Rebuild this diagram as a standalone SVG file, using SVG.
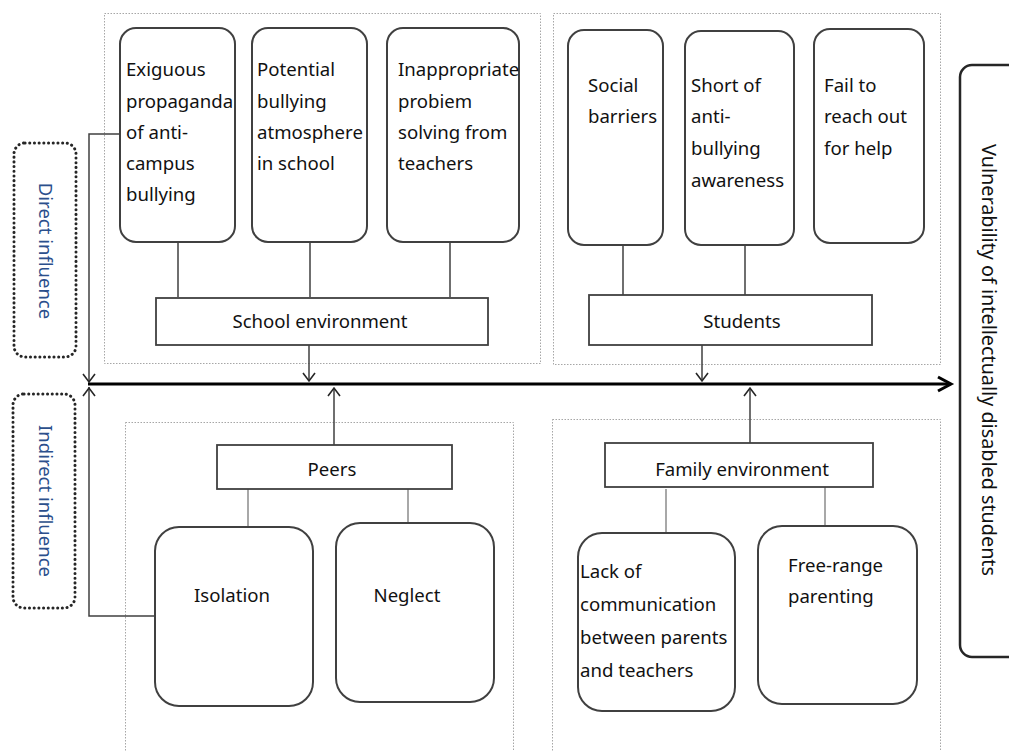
<svg xmlns="http://www.w3.org/2000/svg" width="1009" height="751" viewBox="0 0 1009 751">
<style>
.bg{fill:#fff}
.cont{fill:none;stroke:#a6a6a6;stroke-width:1;stroke-dasharray:1.5 1.5}
.rbox{fill:#fff;stroke:#404040;stroke-width:2}
.sbox{fill:#fff;stroke:#404040;stroke-width:1.8}
.vbox{fill:#fff;stroke:#262626;stroke-width:2.5}
.dot{fill:none;stroke:#262626;stroke-width:3;stroke-dasharray:0.1 4.6;stroke-linecap:round}
.t{font-family:"Noto Sans","Open Sans",sans-serif;font-size:18.6px;fill:#111}
.c{text-anchor:middle}
.bl{font-family:"Noto Sans","Open Sans",sans-serif;font-size:18.5px;fill:#2b4f8c;text-anchor:middle}
.ln{fill:none;stroke:#404040;stroke-width:1.5}
.lg{fill:none;stroke:#8c8c8c;stroke-width:1.5}
.ar{fill:none;stroke:#262626;stroke-width:1.6}
.main{fill:none;stroke:#000;stroke-width:3}
</style>
<rect class="bg" x="0" y="0" width="1009" height="751"/>

<g id="containers">
<rect class="cont" x="104.5" y="13.5" width="436" height="350"/>
<rect class="cont" x="553.5" y="13.5" width="387" height="351"/>
<rect class="cont" x="125.5" y="422.5" width="388" height="340"/>
<rect class="cont" x="552.5" y="419.5" width="388" height="340"/>
</g>

<g id="connectors">
<path class="ln" d="M178 242V297M310 242V297M450 242V297M623 245V295M745 245V295"/>
<path class="lg" d="M248 489V527M408 489V523M666 489V535M825 486V528"/>
<path class="ln" d="M120 134H89V382M155 616H89V387"/>
<path class="ar" d="M83 374L89 382L95 374M83 396L89 388L95 396"/>
<path class="ln" d="M309 345V381M702 345V381M334 445V388M750 443V388"/>
<path class="ar" d="M303 373L309 381L315 373M696 373L702 381L708 373M328 396L334 388L340 396M744 396L750 388L756 396"/>
<path class="main" d="M88 384H950"/>
<path class="main" d="M938 377L951 384L938 391"/>
</g>

<g id="direct-influence">
<rect class="dot" x="14" y="143" width="62" height="214" rx="11"/>
<text class="bl" transform="translate(39 251) rotate(90)">Direct influence</text>
</g>
<g id="indirect-influence">
<rect class="dot" x="13" y="394" width="62" height="214" rx="11"/>
<text class="bl" transform="translate(39 501) rotate(90)">Indirect influence</text>
</g>

<g id="vulnerability">
<rect class="vbox" x="960" y="65" width="70" height="592" rx="12"/>
<text class="t" style="font-size:19.8px" text-anchor="middle" transform="translate(982 360) rotate(90)">Vulnerability of intellectually disabled students</text>
</g>

<g id="exiguous">
<rect class="rbox" x="120" y="28" width="115" height="214" rx="16"/>
<text class="t"><tspan x="126" y="76">Exiguous</tspan><tspan x="126" y="108">propaganda</tspan><tspan x="126" y="139">of anti-</tspan><tspan x="126" y="170">campus</tspan><tspan x="126" y="201">bullying</tspan></text>
</g>
<g id="potential">
<rect class="rbox" x="252" y="28" width="115" height="214" rx="16"/>
<text class="t"><tspan x="257" y="76">Potential</tspan><tspan x="257" y="108">bullying</tspan><tspan x="257" y="139">atmosphere</tspan><tspan x="257" y="170">in school</tspan></text>
</g>
<g id="inappropriate">
<rect class="rbox" x="387" y="28" width="132" height="214" rx="16"/>
<text class="t"><tspan x="398" y="76">Inappropriate</tspan><tspan x="398" y="108">probiem</tspan><tspan x="398" y="139">solving from</tspan><tspan x="398" y="170">teachers</tspan></text>
</g>
<g id="school-environment">
<rect class="sbox" x="156" y="298" width="332" height="47"/>
<text class="t c" x="320" y="328">School environment</text>
</g>

<g id="social">
<rect class="rbox" x="568" y="30" width="95" height="215" rx="16"/>
<text class="t"><tspan x="588" y="92">Social</tspan><tspan x="588" y="123">barriers</tspan></text>
</g>
<g id="short">
<rect class="rbox" x="685" y="31" width="109" height="214" rx="16"/>
<text class="t"><tspan x="691" y="92">Short of</tspan><tspan x="691" y="123">anti-</tspan><tspan x="691" y="155">bullying</tspan><tspan x="691" y="187">awareness</tspan></text>
</g>
<g id="fail">
<rect class="rbox" x="814" y="29" width="110" height="214" rx="16"/>
<text class="t"><tspan x="824" y="92">Fail to</tspan><tspan x="824" y="123">reach out</tspan><tspan x="824" y="155">for help</tspan></text>
</g>
<g id="students">
<rect class="sbox" x="589" y="295" width="283" height="50"/>
<text class="t c" x="742" y="328">Students</text>
</g>

<g id="peers">
<rect class="sbox" x="217" y="445" width="235" height="44"/>
<text class="t c" x="332" y="476">Peers</text>
</g>
<g id="isolation">
<rect class="rbox" x="155" y="527" width="158" height="179" rx="24"/>
<text class="t c" x="232" y="602">Isolation</text>
</g>
<g id="neglect">
<rect class="rbox" x="336" y="523" width="158" height="179" rx="24"/>
<text class="t c" x="407" y="602">Neglect</text>
</g>

<g id="family-environment">
<rect class="sbox" x="605" y="443" width="268" height="44"/>
<text class="t c" x="742" y="476">Family environment</text>
</g>
<g id="lack">
<rect class="rbox" x="578" y="533" width="157" height="178" rx="24"/>
<text class="t"><tspan x="580" y="578">Lack of</tspan><tspan x="580" y="611">communication</tspan><tspan x="580" y="644">between parents</tspan><tspan x="580" y="677">and teachers</tspan></text>
</g>
<g id="free-range">
<rect class="rbox" x="758" y="526" width="159" height="178" rx="24"/>
<text class="t"><tspan x="788" y="572">Free-range</tspan><tspan x="788" y="603">parenting</tspan></text>
</g>
</svg>
